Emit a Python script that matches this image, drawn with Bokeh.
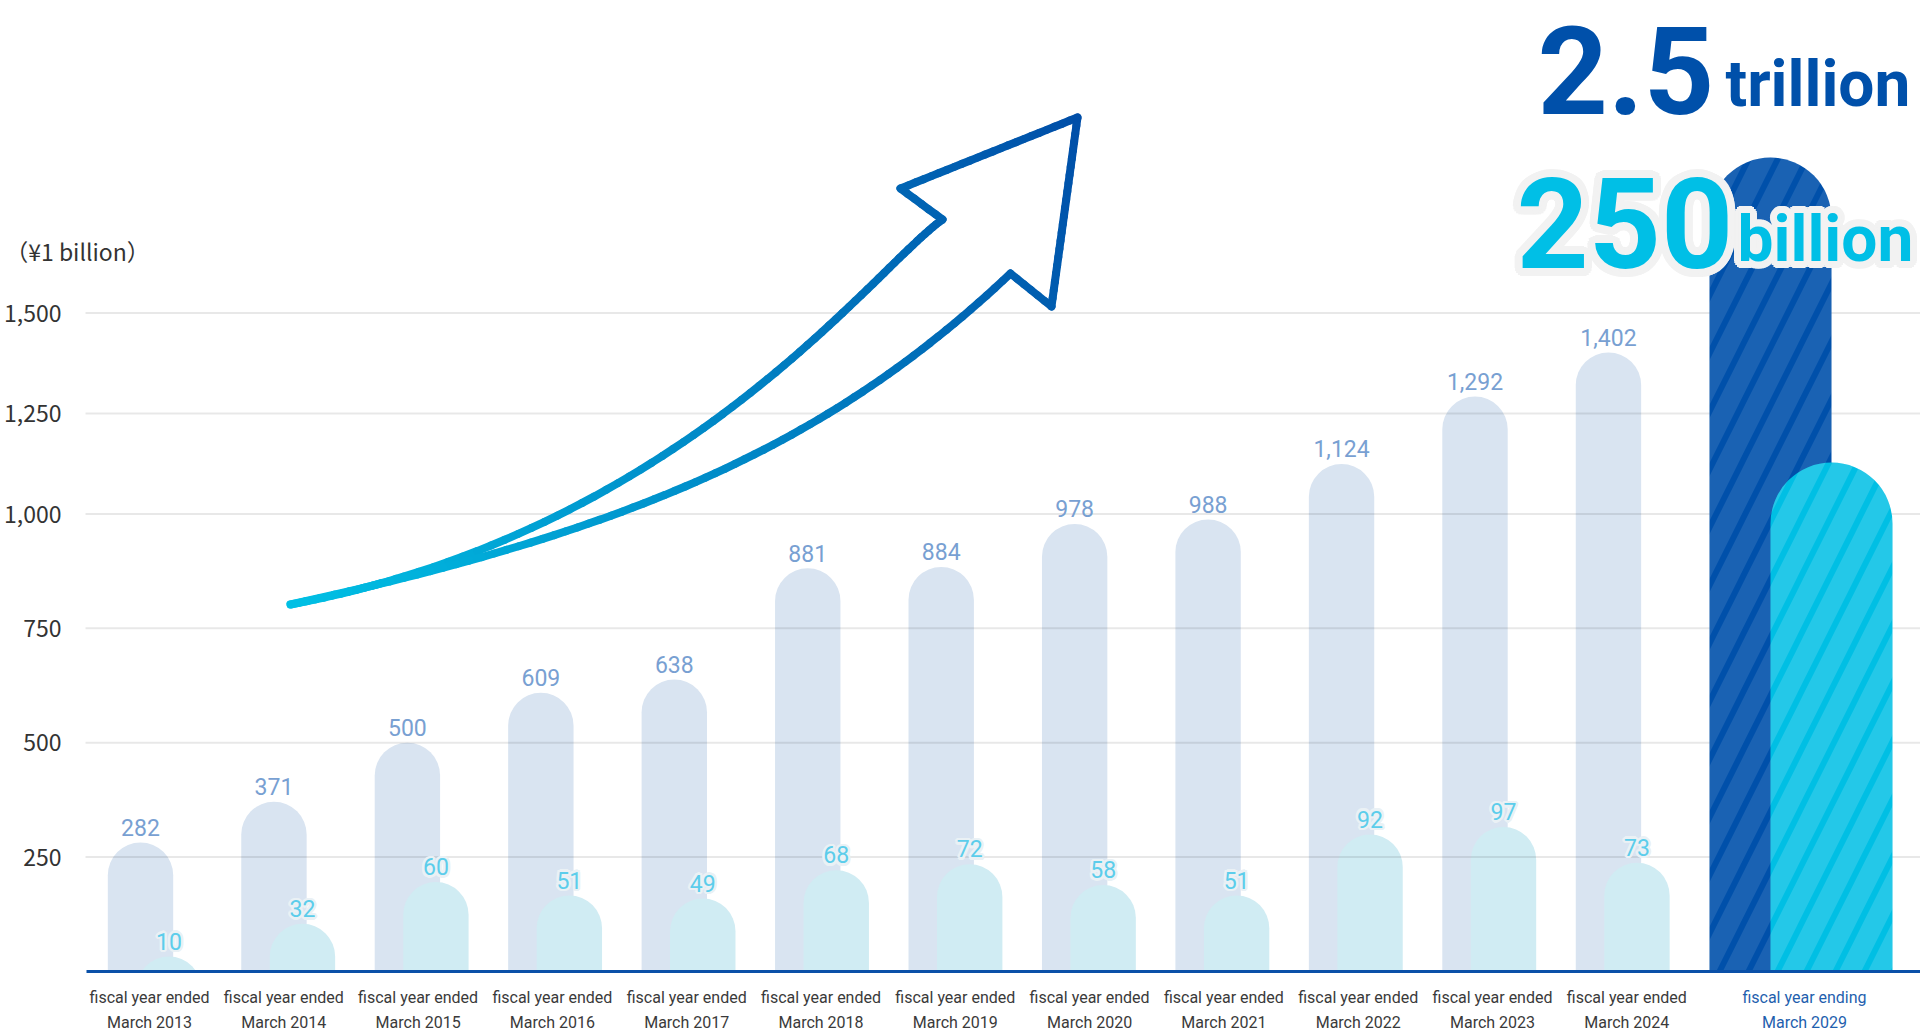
import math
import numpy as np
from bokeh.plotting import figure
from bokeh.models import ColumnDataSource, Range1d, CustomJSTransform
from bokeh.transform import transform
from bokeh.core.properties import value
from bokeh.embed import file_html
from bokeh.resources import INLINE

# ---------------- data ----------------
years = ["2013", "2014", "2015", "2016", "2017", "2018",
         "2019", "2020", "2021", "2022", "2023", "2024"]
revenue = [282, 371, 500, 609, 638, 881, 884, 978, 988, 1124, 1292, 1402]   # ¥ billion
operating_profit = [10, 32, 60, 51, 49, 68, 72, 58, 51, 92, 97, 73]         # ¥ billion
target_year = "2029"
target_revenue = 2500      # ¥2.5 trillion
target_profit = 250        # ¥250 billion
y_ticks = [250, 500, 750, 1000, 1250, 1500]
label_ended = "fiscal year ended"
label_ending = "fiscal year ending"
unit_label = "（¥1 billion）"

# ---------------- layout (page pixels) ----------------
W, H = 1920, 1032
BASE = 971                          # page y of the zero line
PX_X = 133.45                       # px per category
X_ZERO = 140                        # page x of first category
PX_Y = 0.4576                       # px per ¥ billion (lower part of axis)
BREAK, UPPER = 1000, 0.878          # axis is compressed above 1,000
PX_OP = 1.49                        # px per ¥ billion of operating profit
TFIX = 0.36                         # baseline correction (fraction of font size)

def px_x(page_x):
    return (page_x - X_ZERO) / PX_X

def px_y(page_y):
    return (BASE - page_y) / PX_Y

def disp(v):
    return v if v <= BREAK else BREAK + (v - BREAK) * UPPER

piecewise = CustomJSTransform(
    args=dict(brk=BREAK, k=UPPER),
    func="return x <= brk ? x : brk + (x - brk) * k;",
    v_func="""
const out = new Float64Array(xs.length);
for (let i = 0; i < xs.length; i++) { const v = xs[i]; out[i] = v <= brk ? v : brk + (v - brk) * k; }
return out;
""")

p = figure(width=W, height=H, output_backend="svg", toolbar_location=None,
           x_range=Range1d(px_x(0), px_x(W)),
           y_range=Range1d(px_y(H), px_y(0)),
           min_border=0)
p.extra_y_ranges = {
    "profit": Range1d((BASE - H) / PX_OP, BASE / PX_OP),
    "target_rev": Range1d((BASE - H) * target_revenue / 814.0, BASE * target_revenue / 814.0),
    "target_op": Range1d((BASE - H) * target_profit / 509.0, BASE * target_profit / 509.0),
}
p.outline_line_color = None
p.xaxis.visible = False
p.yaxis.visible = False
p.xgrid.visible = False
p.ygrid.visible = False

n = len(years)
BAR_W = 0.49
OP_SHIFT = 28.5 / PX_X
xs = list(range(n))
src = ColumnDataSource(dict(
    x=xs,
    xop=[i + OP_SHIFT for i in xs],
    rev=revenue,
    op=operating_profit,
    rev_label=[f"{v:,}" for v in revenue],
    op_label=[str(v) for v in operating_profit],
))

p.vbar(x="x", width=BAR_W, bottom=-400, top=transform("rev", piecewise), source=src,
       fill_color="#d9e4f1", line_color=None, border_radius=33)
p.vbar(x="xop", width=BAR_W, bottom=-200, top="op", source=src, y_range_name="profit",
       fill_color="#d0ecf3", line_color=None, border_radius=33)

# horizontal grid lines with tick labels
tick_pos = [disp(v) for v in y_ticks]
gsrc = ColumnDataSource(dict(y=tick_pos, t=[f"{v:,}" for v in y_ticks]))
p.segment(x0=px_x(85), x1=px_x(W), y0="y", y1="y", source=gsrc,
          line_color="black", line_alpha=0.09, line_width=2)
p.text(x=px_x(61), y="y", text="t", source=gsrc, text_align="right",
       text_baseline="alphabetic", y_offset=8.5 - TFIX * 23,
       text_font=value("Noto Sans CJK JP"), text_font_size="23px", text_color="#333333")
p.text(x=[px_x(77)], y=[px_y(259)], text=[unit_label], text_align="center",
       text_baseline="alphabetic", y_offset=-TFIX * 23,
       text_font=value("Noto Sans CJK JP"), text_font_size="23px", text_color="#333333")

# target bars (fiscal year ending March 2029), drawn as an illustration
TARGET_X = px_x(1770)
TW = 122 / PX_X
tsrc = ColumnDataSource(dict(x=[TARGET_X], xo=[TARGET_X + TW / 2],
                             rev=[target_revenue], op=[target_profit]))
p.vbar(x="x", width=TW, bottom=-1000, top="rev", source=tsrc, y_range_name="target_rev",
       fill_color="#0050aa", line_color=None, border_radius=61,
       hatch_pattern="/", hatch_color="white", hatch_alpha=0.1,
       hatch_scale=58, hatch_weight=20, level="annotation")
p.vbar(x="xo", width=TW, bottom=-100, top="op", source=tsrc, y_range_name="target_op",
       fill_color="#00bfe4", line_color=None, border_radius=61,
       hatch_pattern="/", hatch_color="white", hatch_alpha=0.14,
       hatch_scale=58, hatch_weight=20, level="annotation")

# white band below the zero line
p.quad(left=px_x(0), right=px_x(W), bottom=px_y(H), top=0, fill_color="white",
       line_color=None, level="annotation")
p.segment(x0=px_x(86), x1=px_x(W), y0=0, y1=0, line_color="#0a50a8", line_width=3,
          level="overlay")

# value labels
p.text(x="x", y=transform("rev", piecewise), text="rev_label", source=src,
       text_align="center", text_baseline="alphabetic", y_offset=-7 - TFIX * 23,
       text_font=value("Roboto"), text_font_size="23px", text_color="#78a0d2",
       level="overlay")

halo = {"x": [], "y": [], "t": [], "dx": [], "dy": []}
for i in xs:
    for a in range(12):
        ang = 2 * math.pi * a / 12
        halo["x"].append(i + OP_SHIFT)
        halo["y"].append(operating_profit[i])
        halo["t"].append(str(operating_profit[i]))
        halo["dx"].append(2.5 * math.cos(ang))
        halo["dy"].append(-7 - TFIX * 23 + 2.5 * math.sin(ang))
p.text(x="x", y="y", text="t", x_offset="dx", y_offset="dy", source=ColumnDataSource(halo),
       y_range_name="profit", text_align="center", text_baseline="alphabetic",
       text_font=value("Roboto"), text_font_size="23px", text_color="#eaf1f5",
       level="overlay")
p.text(x="xop", y="op", text="op_label", source=src, y_range_name="profit",
       text_align="center", text_baseline="alphabetic", y_offset=-7 - TFIX * 23,
       text_font=value("Roboto"), text_font_size="23px", text_color="#5ccdeb",
       level="overlay")

# ---------------- arrow ----------------
def bez(P0, P1, P2, P3, m):
    out = []
    for t in np.linspace(0, 1, m):
        u = 1 - t
        out.append((u**3 * P0[0] + 3 * u * u * t * P1[0] + 3 * u * t * t * P2[0] + t**3 * P3[0],
                    u**3 * P0[1] + 3 * u * u * t * P1[1] + 3 * u * t * t * P2[1] + t**3 * P3[1]))
    return out

S, TIP = (290, 604), (1077, 117)
path = bez(S, (682, 530), (871, 270), (942, 219), 70)
path += [(900, 188), TIP, (1051, 306), (1010, 273)]
path += bez((1010, 273), (828, 445), (632, 529), S, 70)[1:]
dense = [path[0]]
for a, b in zip(path[:-1], path[1:]):
    L = math.hypot(b[0] - a[0], b[1] - a[1])
    k = max(1, int(L / 8))
    for j in range(1, k + 1):
        dense.append((a[0] + (b[0] - a[0]) * j / k, a[1] + (b[1] - a[1]) * j / k))
c0, c1 = (0, 192, 228), (0, 78, 168)
vx, vy = TIP[0] - S[0], TIP[1] - S[1]
vv = vx * vx + vy * vy
seg = {"xs": [], "ys": [], "c": []}
for a, b in zip(dense[:-1], dense[1:]):
    mx, my = (a[0] + b[0]) / 2, (a[1] + b[1]) / 2
    t = min(1, max(0, ((mx - S[0]) * vx + (my - S[1]) * vy) / vv))
    col = tuple(int(round(c0[q] + (c1[q] - c0[q]) * t)) for q in range(3))
    seg["xs"].append([px_x(a[0]), px_x(b[0])])
    seg["ys"].append([px_y(a[1]), px_y(b[1])])
    seg["c"].append("#%02x%02x%02x" % col)
p.multi_line(xs="xs", ys="ys", line_color="c", line_width=8, line_cap="round",
             line_join="round", source=ColumnDataSource(seg), level="overlay")

# ---------------- headline figures ----------------
def big_text(txt, left, base, size, color, halo_r=None):
    fs = f"{size}px"
    yo = -TFIX * size
    if halo_r:
        hx, hy = [], []
        for r in (halo_r, halo_r / 2):
            for a in range(20):
                ang = 2 * math.pi * a / 20
                hx.append(r * math.cos(ang)); hy.append(yo + r * math.sin(ang))
        p.text(x=[px_x(left)] * len(hx), y=[px_y(base)] * len(hx), text=[txt] * len(hx),
               x_offset=hx, y_offset=hy, text_align="left", text_baseline="alphabetic",
               text_font=value("Roboto"), text_font_style="bold", text_font_size=fs,
               text_color="#f2f2f2", level="overlay")
    p.text(x=[px_x(left)], y=[px_y(base)], text=[txt], text_align="left", y_offset=yo,
           text_baseline="alphabetic", text_font=value("Roboto"), text_font_style="bold",
           text_font_size=fs, text_color=color, level="overlay")

big_text("2.5", 1537, 114, 123, "#0050aa")
big_text("trillion", 1725, 107, 64, "#0050aa")
big_text(f"{target_profit}", 1516, 268, 126, "#00bfe6", halo_r=8)
big_text("billion", 1737, 262, 64, "#00bfe6", halo_r=7)

# ---------------- category labels ----------------
LABEL_STEP = 134.3
lab_x = [px_x(149 + LABEL_STEP * i) for i in xs] + [px_x(1804)]
lab_c = ["#3a3a3a"] * n + ["#1f5fae"]
lsrc = ColumnDataSource(dict(
    x=lab_x,
    t1=[label_ended] * n + [label_ending],
    t2=[f"March {y}" for y in years] + [f"March {target_year}"],
    c=lab_c))
for base, col in ((1003, "t1"), (1028, "t2")):
    p.text(x="x", y=px_y(base), text=col, source=lsrc, text_align="center",
           text_baseline="alphabetic", y_offset=-TFIX * 16,
           text_font=value("Roboto"), text_font_size="16px", text_color="c",
           level="overlay")

open("out.html", "w").write(file_html(p, INLINE))
